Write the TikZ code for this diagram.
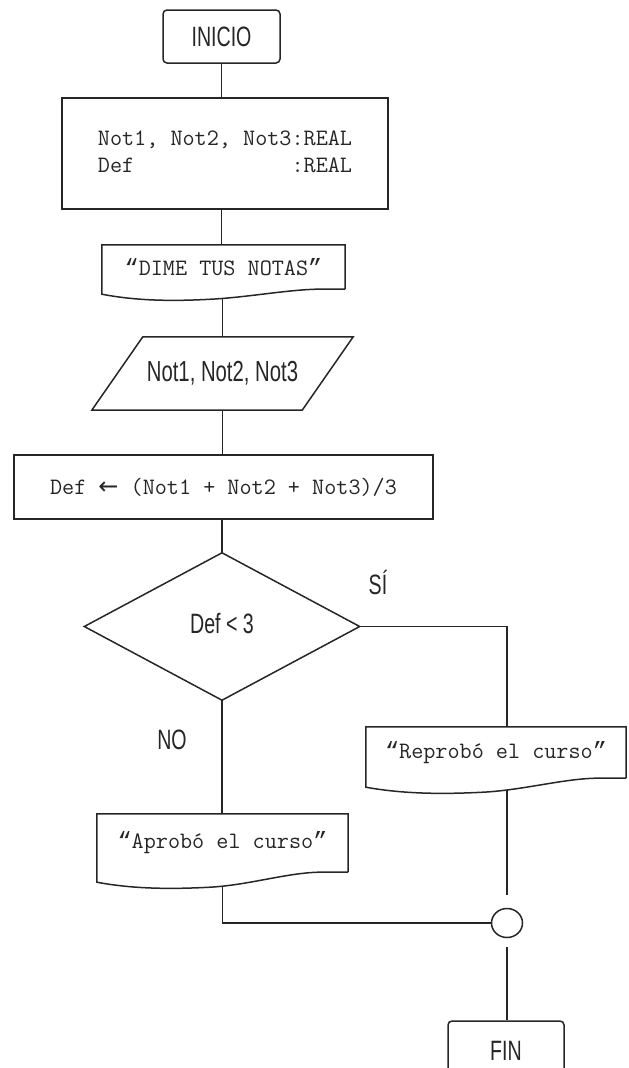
\documentclass[tikz,border=0pt]{standalone}
\usepackage{fontspec}
\usetikzlibrary{calc,shapes.geometric}
\newfontfamily\condsans[FakeStretch=0.7]{Liberation Sans}
\newfontfamily\arrowf{DejaVu Sans}
\newfontfamily\quotef{Liberation Mono}
\newcommand\oq{{\quotef “}}
\newcommand\cq{{\quotef ”}}
\tikzset{
  ln/.style={line width=1.5pt, draw=black!85},
  box/.style={rectangle, inner sep=0pt},
  sanstxt/.style={font=\condsans\fontsize{28}{30}\selectfont, text=black!85},
  monotxt/.style={font=\ttfamily\fontsize{23.5}{27}\selectfont, text=black!85},
}
% document (wavy bottom) shape drawn round a node
\newcommand\docshape[2]{%
  \draw[ln] (#1.south east) -- (#1.north east) -- (#1.north west) -- ($(#1.south west)+(0,#2)$)
    .. controls ($(#1.south west)!0.15!(#1.south east)+(0,#2+7)$) and ($(#1.south west)!0.3!(#1.south east)+(0,#2+7)$)
    .. ($(#1.south west)!0.45!(#1.south east)+(0,#2+5)$)
    .. controls ($(#1.south west)!0.6!(#1.south east)+(0,#2+3)$) and ($(#1.south west)!0.75!(#1.south east)+(0,1)$)
    .. ($(#1.south west)!0.88!(#1.south east)$) -- (#1.south east);}
\begin{document}
\begin{tikzpicture}[x=1pt,y=-1pt]
\useasboundingbox (0,0) rectangle (629,1068);
\clip (0,0) rectangle (629,1068);

% nodes
\node[box, ln, draw, rounded corners=4pt, minimum width=117pt, minimum height=53pt, sanstxt] (inicio) at (221.5,36.5) {\raisebox{-2pt}{INICIO}};
\node[box, ln, draw, minimum width=326pt, minimum height=111pt, monotxt] (decl) at (225,153.5)
  {\raisebox{8pt}{\begin{tabular}{@{}l@{}l@{}}Not1, Not2, Not3&:REAL\\Def&:REAL\end{tabular}}};
\node[box, minimum width=243pt, minimum height=44pt, monotxt] (dime) at (223.5,267) {\raisebox{-5pt}{\oq DIME TUS NOTAS\cq}};
\node[box, minimum width=261pt, minimum height=73pt, font=\condsans\fontsize{29}{30}\selectfont, text=black!85] (input) at (222.5,373.5) {\raisebox{-4pt}{Not1, Not2, Not3}};
\node[box, ln, draw, minimum width=419pt, minimum height=64pt, monotxt] (def) at (223.5,487) {\raisebox{-2pt}{Def {\arrowf\fontsize{24}{27}\selectfont ←} (Not1 + Not2 + Not3)/3}};
\node[box, minimum width=275pt, minimum height=147pt, sanstxt] (dia) at (222,626.5) {\raisebox{6pt}{Def < 3}};
\node[box, minimum width=260pt, minimum height=51pt, monotxt] (repro) at (496,752.5) {\oq Reprobó el curso\cq};
\node[box, minimum width=251pt, minimum height=58pt, monotxt] (apro) at (222.5,843) {\raisebox{-4pt}{\oq Aprobó el curso\cq}};
\node[ellipse, ln, draw, inner sep=0pt, minimum width=31pt, minimum height=29pt] (junc) at (507,923) {};
\node[box, ln, draw, rounded corners=4pt, minimum width=116pt, minimum height=60pt, sanstxt] (fin) at (506,1051) {FIN};
\node[sanstxt] (si) at (378,582) {SÍ};
\node[sanstxt] (no) at (172,740) {NO};

% shapes drawn round text nodes
\docshape{dime}{5}
\docshape{repro}{9}
\docshape{apro}{10}
\draw[ln] ($(input.north west)+(51,0)$) -- (input.north east) -- ($(input.south east)+(-51,0)$) -- (input.south west) -- cycle;
\draw[ln] (dia.north) -- (dia.east) -- (dia.south) -- (dia.west) -- cycle;

% connectors
\draw[ln] (inicio.south) -- (inicio.south |- decl.north);
\draw[ln] (decl.south -| inicio.south) -- (inicio.south |- dime.north);
\draw[ln] ($(dime.south)+(-1,10)$) -- ($(dime.south |- input.north)+(-1,0)$);
\draw[ln] (input.south) -- (input.south |- def.north);
\draw[ln] (def.south -| dia.north) -- (dia.north);
\draw[ln] (dia.east) -| (repro.north -| junc.north);
\draw[ln, shorten >=13pt] ($(repro.south -| junc.north)+(0,12)$) -- (junc.north);
\draw[ln] (dia.south) -- (dia.south |- apro.north);
\draw[ln] ($(apro.south)+(0,15)$) |- (junc.west);
\draw[ln, shorten <=9pt] (junc.south) -- (junc.south |- fin.north);
\end{tikzpicture}
\end{document}
